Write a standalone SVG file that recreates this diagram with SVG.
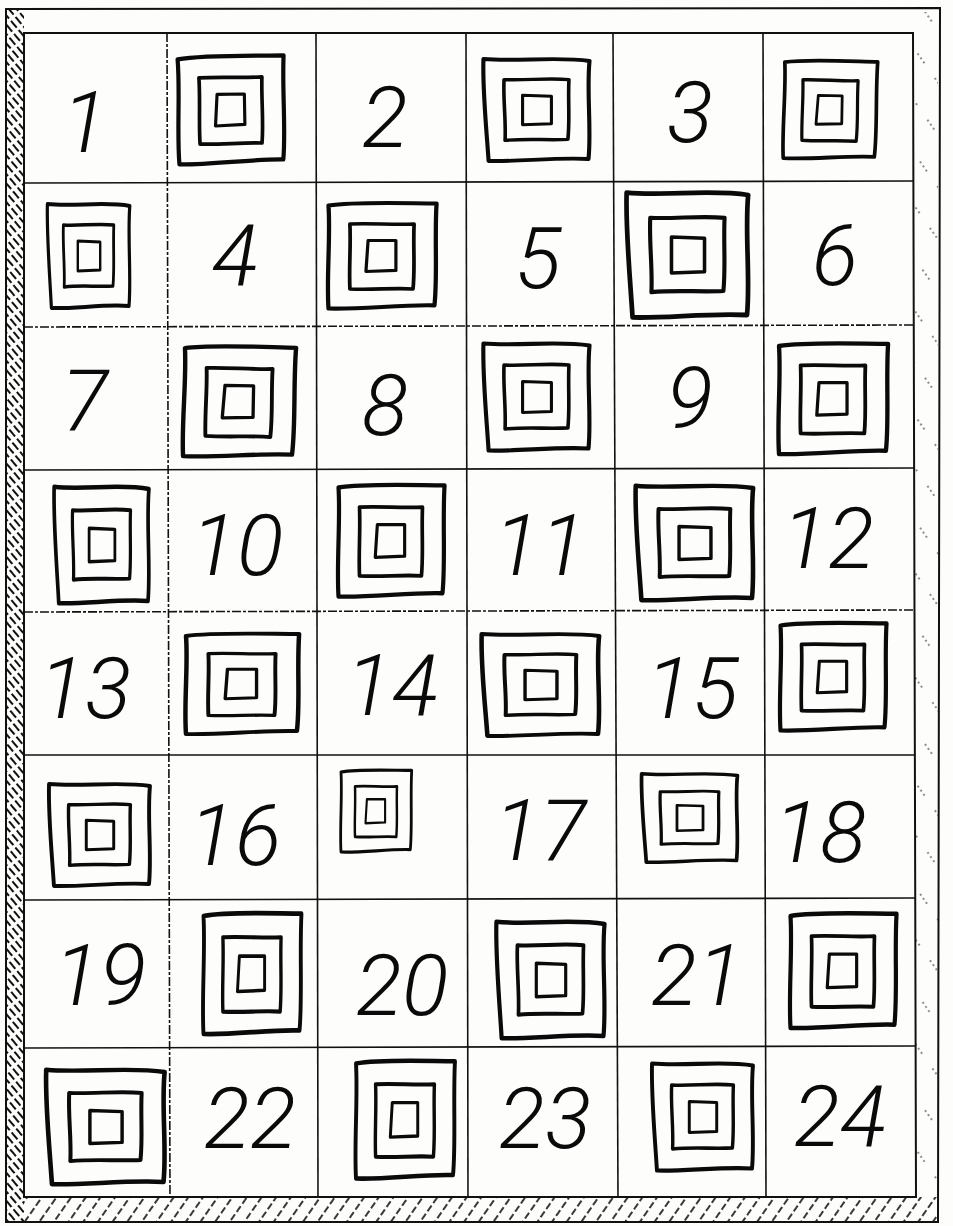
<svg xmlns="http://www.w3.org/2000/svg" width="953" height="1226" viewBox="0 0 953 1226">
<style>
.bg{fill:#fdfdfc}
.frame{fill:none;stroke:#111;stroke-width:2}
.grid{fill:none;stroke:#111;stroke-width:1.6}
.gridd{fill:none;stroke:#111;stroke-width:1.6;stroke-dasharray:9 2 3 2}
.ico{fill:none;stroke:#0a0a0a;stroke-linejoin:round;stroke-linecap:round}
.o{stroke-width:4}
.m{stroke-width:3.5}
.i{stroke-width:3}
.num{font-family:Roboto,Lato,"Liberation Sans",sans-serif;font-style:italic;font-weight:300;font-size:86px;fill:#0a0a0a;text-anchor:middle}
</style>
<defs>
<pattern id="hatchL" width="6" height="12" patternUnits="userSpaceOnUse" patternTransform="rotate(-40)">
<line x1="1" y1="0" x2="1" y2="12" stroke="#111" stroke-width="2" stroke-dasharray="8 3"/>
</pattern>
<pattern id="hatchB" width="12" height="10" patternUnits="userSpaceOnUse" patternTransform="rotate(35)">
<line x1="1" y1="0" x2="1" y2="10" stroke="#222" stroke-width="1.8" stroke-dasharray="7 3"/>
</pattern>
<pattern id="hatchR" width="30" height="30" patternUnits="userSpaceOnUse" patternTransform="rotate(-35)">
<line x1="1" y1="0" x2="1" y2="12" stroke="#444" stroke-width="1.2" stroke-dasharray="2 3"/>
</pattern>
<symbol id="sqA" viewBox="-60 -60 120 120" width="120" height="120" overflow="visible">
<path class="ico o" d="M-50,-50 C-25,-54 25,-52 51,-52 C49,-20 52,20 49,47 C20,46 -20,51 -50,50 C-52,20 -48,-20 -50,-50 Z"/>
<path class="ico m" d="M-30,-32 C-10,-33 10,-31 30,-32 C29,-10 31,10 29,31 C10,30 -10,32 -30,31 C-31,10 -29,-10 -30,-32 Z"/>
<path class="ico i" d="M-13,-16 L13,-16 L13,13 L-15,14 Z"/>
</symbol>
<symbol id="sqB" viewBox="-60 -60 120 120" width="120" height="120" overflow="visible">
<path class="ico o" d="M-52,-52 C-20,-49 20,-55 51,-50 C48,-20 53,20 50,50 C20,48 -20,53 -47,52 C-49,20 -53,-20 -52,-52 Z"/>
<path class="ico m" d="M-32,-31 C-10,-30 10,-33 31,-31 C30,-10 32,10 30,30 C10,31 -10,29 -31,31 C-30,10 -33,-10 -32,-31 Z"/>
<path class="ico i" d="M-14,-15 L14,-14 L14,14 L-14,15 Z"/>
</symbol>
</defs>
<rect class="bg" x="0" y="0" width="953" height="1226"/>

<g id="walls">
<rect x="6" y="10" width="18" height="1211" fill="url(#hatchL)"/>
<rect x="24" y="1197" width="914" height="24" fill="url(#hatchB)"/>
<rect x="915" y="12" width="23" height="1185" fill="url(#hatchR)"/>
<path class="frame" d="M6,9 L940,8 L938,1222 L6,1222 Z"/>
<path class="frame" d="M24,33 L913,33 L916,1197 L24,1197 Z"/>
</g>

<g id="grid">
<path class="gridd" d="M167,33 L170,1197"/>
<path class="grid" d="M316,33 L318,1197"/>
<path class="grid" d="M466,33 L468,1197"/>
<path class="grid" d="M613,33 L618,1197"/>
<path class="grid" d="M763,33 L766,1197"/>
<path class="grid" d="M24,183 L914,181"/>
<path class="gridd" d="M24,327 L914,325"/>
<path class="grid" d="M24,470 L914,468"/>
<path class="gridd" d="M24,612 L914,610"/>
<path class="grid" d="M24,755 L914,755"/>
<path class="grid" d="M24,900 L915,898"/>
<path class="grid" d="M24,1048 L915,1046"/>
</g>

<g id="icons">
<use href="#sqA" x="-60" y="-60" transform="translate(231,111) scale(1.05,1.05) rotate(-1)"/>
<use href="#sqB" x="-60" y="-60" transform="translate(537,110) scale(1.03,0.98)"/>
<use href="#sqA" x="-60" y="-60" transform="translate(830,111) scale(0.92,0.96) rotate(1)"/>
<use href="#sqB" x="-60" y="-60" transform="translate(89,256) scale(0.8,1.0)"/>
<use href="#sqA" x="-60" y="-60" transform="translate(382,257) scale(1.07,1.03)"/>
<use href="#sqB" x="-60" y="-60" transform="translate(688,255) scale(1.18,1.2)"/>
<use href="#sqA" x="-60" y="-60" transform="translate(239,403) scale(1.1,1.08) rotate(1)"/>
<use href="#sqB" x="-60" y="-60" transform="translate(537,397) scale(1.03,1.03)"/>
<use href="#sqA" x="-60" y="-60" transform="translate(833,400) scale(1.08,1.08)"/>
<use href="#sqB" x="-60" y="-60" transform="translate(102,545) scale(0.92,1.12)"/>
<use href="#sqA" x="-60" y="-60" transform="translate(391,542) scale(1.05,1.09)"/>
<use href="#sqB" x="-60" y="-60" transform="translate(695,543) scale(1.14,1.1)"/>
<use href="#sqA" x="-60" y="-60" transform="translate(242,685) scale(1.12,0.98)"/>
<use href="#sqB" x="-60" y="-60" transform="translate(541,685) scale(1.14,0.98)"/>
<use href="#sqA" x="-60" y="-60" transform="translate(833,678) scale(1.05,1.05)"/>
<use href="#sqB" x="-60" y="-60" transform="translate(100,835) scale(0.98,0.98)"/>
<use href="#sqA" x="-60" y="-60" transform="translate(376,812) scale(0.7,0.8)"/>
<use href="#sqB" x="-60" y="-60" transform="translate(690,818) scale(0.93,0.85)"/>
<use href="#sqA" x="-60" y="-60" transform="translate(252,975) scale(0.97,1.18)"/>
<use href="#sqB" x="-60" y="-60" transform="translate(551,980) scale(1.05,1.12)"/>
<use href="#sqA" x="-60" y="-60" transform="translate(843,972) scale(1.05,1.12)"/>
<use href="#sqB" x="-60" y="-60" transform="translate(106,1127) scale(1.15,1.1)"/>
<use href="#sqA" x="-60" y="-60" transform="translate(405,1121) scale(0.98,1.15)"/>
<use href="#sqB" x="-60" y="-60" transform="translate(703,1117) scale(0.98,1.03)"/>
</g>

<g id="numbers">
<text class="num" x="85" y="152">1</text>
<text class="num" x="385" y="147">2</text>
<text class="num" x="690" y="142">3</text>
<text class="num" x="235" y="285">4</text>
<text class="num" x="538" y="288">5</text>
<text class="num" x="835" y="285">6</text>
<text class="num" x="85" y="430">7</text>
<text class="num" x="385" y="435">8</text>
<text class="num" x="690" y="428">9</text>
<text class="num" x="237" y="575">10</text>
<text class="num" x="540" y="575">11</text>
<text class="num" x="828" y="568">12</text>
<text class="num" x="85" y="718">13</text>
<text class="num" x="392" y="715">14</text>
<text class="num" x="692" y="718">15</text>
<text class="num" x="235" y="865">16</text>
<text class="num" x="540" y="860">17</text>
<text class="num" x="820" y="862">18</text>
<text class="num" x="100" y="1005">19</text>
<text class="num" x="402" y="1015">20</text>
<text class="num" x="697" y="1005">21</text>
<text class="num" x="250" y="1148">22</text>
<text class="num" x="545" y="1148">23</text>
<text class="num" x="840" y="1146">24</text>
</g>
</svg>
